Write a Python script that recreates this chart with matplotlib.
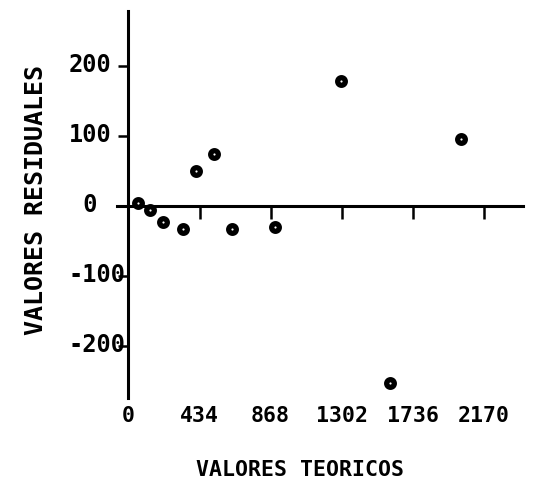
import matplotlib
matplotlib.use("Agg")
import matplotlib.pyplot as plt
import matplotlib.transforms as mtrans

# residuals vs theoretical values
teoricos = [57, 133, 210, 333, 415, 523, 630, 895, 1298, 1600, 2029]
residuales = [5, -5, -23, -33, 50, 74, -33, -30, 179, -252, 96]

xticks = [0, 434, 868, 1302, 1736, 2170]
yticks = [-200, -100, 0, 100, 200]
ytick_labels = ["-200", "-100", " 0", "100", "200"]

plt.rcParams['font.family'] = 'DejaVu Sans Mono'
plt.rcParams['font.weight'] = 'bold'
plt.rcParams['axes.unicode_minus'] = False

fig = plt.figure(figsize=(5.48, 4.89), dpi=100)
ax = fig.add_axes([0.2135, 0.182, 0.741, 0.7955])
ax.set_xlim(-70, 2410)
ax.set_ylim(-275, 280)

# axes cross at the origin
for side in ['top', 'right']:
	ax.spines[side].set_visible(False)
ax.spines['left'].set_position(('data', 0))
ax.spines['bottom'].set_position(('data', 0))
ax.spines['left'].set_linewidth(2.2)
ax.spines['bottom'].set_linewidth(2.2)
ax.spines['left'].set_bounds(-273, 279)
ax.spines['bottom'].set_bounds(-67, 2409)

ax.set_yticks(yticks)
ax.set_yticklabels(ytick_labels)
ax.tick_params(axis='y', direction='out', length=7, width=1.8, pad=36,
		labelsize=17)
# labels are left aligned and sit a little above their ticks
up = mtrans.ScaledTranslation(0, 0.05, fig.dpi_scale_trans)
for lab in ax.get_yticklabels():
	lab.set_horizontalalignment('left')
	lab.set_transform(lab.get_transform() + up)

ax.set_xticks(xticks[1:])
ax.tick_params(axis='x', direction='out', length=9, width=1.8,
		labelbottom=False)

# x tick labels sit below the plot, not on the axis line
sec = ax.secondary_xaxis(0)
sec.spines['bottom'].set_visible(False)
sec.set_xticks(xticks)
sec.set_xticklabels([str(t) for t in xticks])
sec.tick_params(axis='x', length=0, pad=4, labelsize=15.5)

ax.plot(teoricos, residuales, 'o', ms=5.5, mfc='white', mec='black',
		mew=3.8, clip_on=False, zorder=5)

fig.text(0.547, 0.039, "VALORES TEORICOS", ha='center', va='center',
		fontsize=15.5, fontweight='bold')
fig.text(0.066, 0.591, "VALORES RESIDUALES", ha='center', va='center',
		rotation=90, fontsize=18, fontweight='bold')

fig.savefig("out.png", dpi=100)
